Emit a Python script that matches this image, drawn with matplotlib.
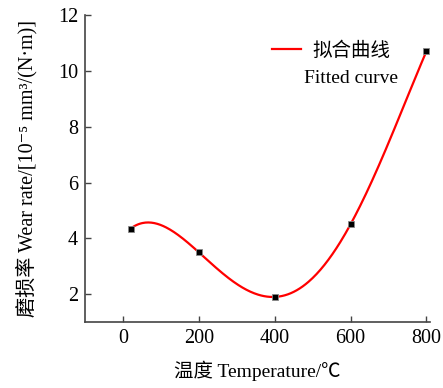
import numpy as np
import matplotlib.pyplot as plt

plt.rcParams['font.family'] = ['Liberation Serif', 'Noto Sans CJK SC', 'DejaVu Serif']

temps = [20, 200, 400, 600, 800]
wear = [4.35, 3.5, 1.9, 4.5, 10.7]
xticks = [0, 200, 400, 600, 800]
yticks = [2, 4, 6, 8, 10, 12]

# fitted curve through the measured points
coef = np.polyfit(temps, wear, 4)
xs = np.linspace(temps[0], temps[-1], 300)
ys = np.polyval(coef, xs)

fig = plt.figure(figsize=(4.43, 3.88), dpi=100)
ax = fig.add_axes([0.192, 0.170, 0.779, 0.791])

ax.plot(xs, ys, color='red', lw=1.6, label='拟合曲线')
ax.plot(temps, wear, 's', color='black', ms=5, mec='#888888', mew=0.6)

ax.set_xlim(-100, 810)
ax.set_ylim(1, 12)
ax.set_xticks(xticks)
ax.set_yticks(yticks)
ax.tick_params(direction='in', labelsize=14.5, length=4, color='#444444', width=1, pad=5)
for s in ['top', 'right']:
    ax.spines[s].set_visible(False)
for s in ['left', 'bottom']:
    ax.spines[s].set_color('#444444')
    ax.spines[s].set_linewidth(1.2)

ax.set_xlabel('温度 Temperature/℃', fontsize=14, labelpad=9)
ax.set_ylabel('磨损率 Wear rate/[10⁻⁵ mm³/(N·m)]', fontsize=14.5, labelpad=15)

leg = ax.legend(loc='upper left', bbox_to_anchor=(0.49, 0.97), frameon=False,
                fontsize=14, handlelength=1.5, handletextpad=0.6)
ax.text(0.635, 0.795, 'Fitted curve', transform=ax.transAxes, fontsize=14, va='center')

fig.savefig('out.png', dpi=100)
